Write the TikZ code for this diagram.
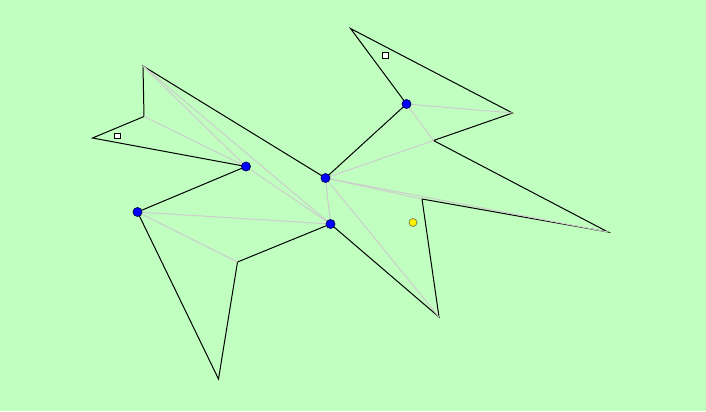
\documentclass[tikz,border=0pt]{standalone}
\definecolor{meadow}{RGB}{192,255,192}
\definecolor{diagline}{RGB}{205,205,205}
\tikzset{
  bluedot/.style={circle,fill=blue,draw=black!70!blue,line width=.5pt,inner sep=0pt,minimum size=6.8pt},
  yellowdot/.style={circle,fill=yellow,draw=black!60!yellow,line width=.5pt,inner sep=0pt,minimum size=6pt},
  marker/.style={rectangle,fill=white,draw=black,line width=.6pt,inner sep=0pt,minimum size=4.2pt}
}
\begin{document}
\begin{tikzpicture}[x=.75pt,y=-.75pt,line width=.75pt]

        \fill[meadow] (0,0) rectangle (706,411);
        \useasboundingbox (0,0) rectangle (706,411);

        % polygon vertices
        \coordinate (1)  at (143,66);
        \coordinate (2)  at (325.5,178);
        \coordinate (3)  at (406.5,104);
        \coordinate (4)  at (350.5,28.5);
        \coordinate (5)  at (512.5,113);
        \coordinate (6)  at (433.5,140.5);
        \coordinate (7)  at (608,232);
        \coordinate (8)  at (422,199);
        \coordinate (9)  at (439,317);
        \coordinate (10) at (330.5,224);
        \coordinate (11) at (237.5,262);
        \coordinate (12) at (218.5,379);
        \coordinate (13) at (137.5,212);
        \coordinate (14) at (246,166.5);
        \coordinate (15) at (92.5,138);
        \coordinate (16) at (144,116.5);

        % outline
        \draw[line join=miter] (1) -- (2) -- (3) -- (4) -- (5) -- (6) -- (7) -- (8)
          -- (9) -- (10) -- (11) -- (12) -- (13) -- (14) -- (15) -- (16) -- cycle;

        % triangulation
        \begin{scope}[diagline]
          \draw (16) -- (14);
          \draw (1)  -- (14);
          \draw (1)  -- (10);
          \draw (14) -- (10);
          \draw (13) -- (10);
          \draw (13) -- (11);
          \draw (2)  -- (10);
          \draw (2)  -- (9);
          \draw (2)  -- (8);
          \draw (2)  -- (7);
          \draw (2)  -- (6);
          \draw (3)  -- (6);
          \draw (3)  -- (5);
        \end{scope}

        \begin{scope}[every node/.style={bluedot}]
          \node (b2)  at (2)  {};
          \node (b3)  at (3)  {};
          \node (b10) at (10) {};
          \node (b13) at (13) {};
          \node (b14) at (14) {};
        \end{scope}

        \node[yellowdot] (y) at (413,222.5) {};
        \node[marker] (s1) at (117.5,136) {};
        \node[marker] (s2) at (385.5,55.5) {};

      \end{tikzpicture}
\end{document}
